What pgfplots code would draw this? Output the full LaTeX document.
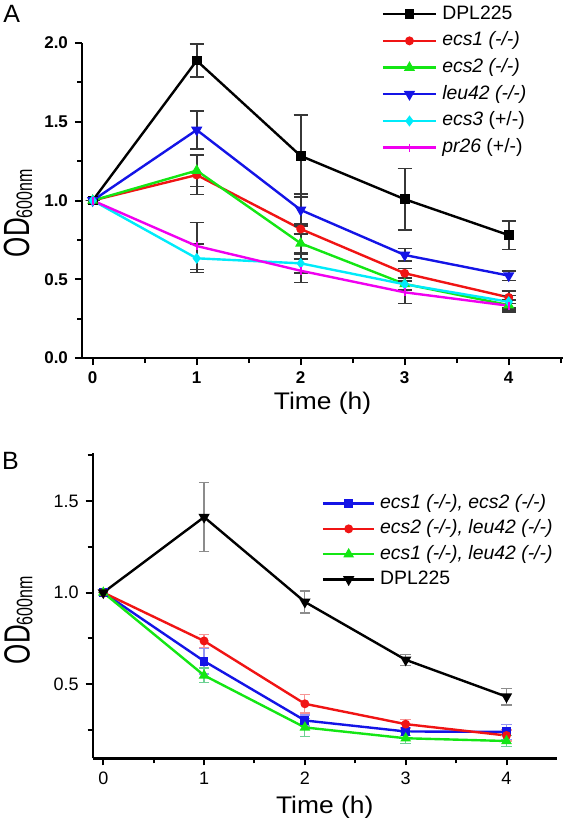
\documentclass[border=0pt]{standalone}
\usepackage{pgfplots}
\pgfplotsset{compat=1.18}
\usepackage{fontspec}
\setmainfont{Liberation Sans}
\definecolor{cred}{RGB}{240,20,20}
\definecolor{cgreen}{RGB}{20,230,20}
\definecolor{cblue}{RGB}{20,20,230}
\definecolor{ccyan}{RGB}{0,235,250}
\definecolor{cmag}{RGB}{240,0,240}
\definecolor{errgray}{RGB}{55,55,55}

\pgfplotstableread{
x y e
0 1.000 0
1 1.888 0.105
2 1.283 0.26
3 1.008 0.195
4 0.780 0.09
}\Adpl
\pgfplotstableread{
x y e
0 1.000 0
1 1.162 0.125
2 0.819 0.03
3 0.538 0.03
4 0.385 0.04
}\Aecsone
\pgfplotstableread{
x y e
0 1.000 0
1 1.190 0.10
2 0.728 0.06
3 0.470 0.04
4 0.336 0.03
}\Aecstwo
\pgfplotstableread{
x y e
0 1.000 0
1 1.448 0.12
2 0.940 0.10
3 0.654 0.04
4 0.523 0.03
}\Aleu
\pgfplotstableread{
x y e
0 1.000 0
1 0.633 0.09
2 0.601 0.06
3 0.468 0.04
4 0.357 0.04
}\Aecsthree
\pgfplotstableread{
x y e
0 1.000 0
1 0.711 0.15
2 0.554 0.075
3 0.417 0.07
4 0.332 0.04
}\Apr
\pgfplotstableread{
x y e
0 1.000 0
1 0.626 0.07
2 0.302 0.03
3 0.242 0.02
4 0.240 0.04
}\Bblue
\pgfplotstableread{
x y e
0 1.000 0
1 0.736 0.035
2 0.393 0.05
3 0.282 0.025
4 0.220 0.03
}\Bred
\pgfplotstableread{
x y e
0 1.000 0
1 0.548 0.04
2 0.264 0.05
3 0.205 0.03
4 0.190 0.03
}\Bgreen
\pgfplotstableread{
x y e
0 1.000 0
1 1.412 0.19
2 0.949 0.06
3 0.633 0.03
4 0.432 0.045
}\Bblack

\pgfplotsset{
  panel/.style={
    scale only axis,
    axis x line*=bottom, axis y line*=left,
    axis line style={line width=1.2pt, black},
    tick align=outside,
    major tick length=3.5pt, minor tick length=2.5pt,
    tick style={line width=1pt, black},
    xtick={0,1,2,3,4}, xticklabels={0,1,2,3,4},
    minor xtick={0.5,1.5,2.5,3.5,4.5},
    clip=false,
    legend cell align=left,
  },
  ser/.style={line width=1.2pt, #1, mark options={solid, fill=#1, draw=#1}},
  legA/.style={legend image code/.code={\draw[mark repeat=2,mark phase=2] plot coordinates {(0pt,0pt)(13.3pt,0pt)(26.6pt,0pt)};}},
  legB/.style={legend image code/.code={\draw[mark repeat=2,mark phase=2] plot coordinates {(0pt,0pt)(12.9pt,0pt)(25.8pt,0pt)};}},
}
\newcommand{\odlabel}{\scalebox{1}[1.4]{OD\raisebox{-1pt}{\fontsize{8}{8}\selectfont 600nm}}}
\newcommand{\timelabel}{\scalebox{1.1}[1]{Time (h)}}

\begin{document}
\begin{tikzpicture}
\useasboundingbox (0,0) rectangle (283pt,-412pt);
\node[anchor=north west, inner sep=0pt, font=\fontsize{12.5}{13}\selectfont] at (1.5pt,-2.5pt) {A};
\node[anchor=north west, inner sep=0pt, font=\fontsize{12.5}{13}\selectfont] at (0.85pt,-225.8pt) {B};

% ---------------- Panel A ----------------
\begin{axis}[panel,
  at={(41pt,-179pt)}, anchor=south west,
  width=240.5pt, height=157.5pt,
  xmin=-0.103, xmax=4.522, ymin=0, ymax=2,
  ytick={0,0.5,1,1.5,2}, yticklabels={0.0,0.5,1.0,1.5,2.0},
  minor ytick={0.25,0.75,1.25,1.75},
  ticklabel style={font=\bfseries\fontsize{8.5}{9}\selectfont},
  xlabel={\timelabel},
  xlabel style={at={(axis description cs:0.5,-0.143)}, anchor=center, font=\fontsize{12}{13}\selectfont},
  ylabel={\odlabel},
  ylabel style={at={(axis description cs:-0.133,0.46)}, anchor=center, font=\fontsize{13}{14}\selectfont},
  legend style={at={(axis description cs:0.623,1.122)}, anchor=north west, draw=none, fill=none,
    inner sep=0pt, outer sep=0pt, row sep=3.75pt, column sep=2.5pt,
    font=\fontsize{9.7}{11}\selectfont,
    nodes={inner sep=0pt, text height=7.3pt, text depth=2.3pt}},
  every axis plot post/.append style={legA},
  error bars/y dir=both, error bars/y explicit,
  error bars/error bar style={line width=0.8pt, errgray},
  error bars/error mark options={rotate=90, mark size=3.6pt, line width=0.8pt, errgray},
]
\addplot[ser=black, mark=square*, mark size=1.8pt] table[x=x,y=y,y error=e] {\Adpl};
\addlegendentry{DPL225}
\addplot[ser=cred, mark=*, mark size=1.6pt] table[x=x,y=y,y error=e] {\Aecsone};
\addlegendentry{\textit{ecs1 (-/-)}}
\addplot[ser=cgreen, mark=triangle*, mark size=2pt] table[x=x,y=y,y error=e] {\Aecstwo};
\addlegendentry{\textit{ecs2 (-/-)}}
\addplot[ser=cblue, mark=triangle*, mark size=2.1pt, mark options={rotate=180}] table[x=x,y=y,y error=e] {\Aleu};
\addlegendentry{\textit{leu42 (-/-)}}
\addplot[ser=ccyan, mark=diamond*, mark size=1.8pt] table[x=x,y=y,y error=e] {\Aecsthree};
\addlegendentry{\textit{ecs3} (+/-)}
\addplot[ser=cmag, mark=|, mark size=2pt, mark options={line width=0.8pt}] table[x=x,y=y,y error=e] {\Apr};
\addlegendentry{\textit{pr26} (+/-)}
\end{axis}

% ---------------- Panel B ----------------
\begin{axis}[panel,
  at={(46.35pt,-379.15pt)}, anchor=south west,
  width=232pt, height=152.5pt,
  xmin=-0.105, xmax=4.498, ymin=0.0956, ymax=1.76,
  ytick={0.5,1,1.5}, yticklabels={0.5,1.0,1.5},
  minor ytick={0.25,0.75,1.25,1.75},
  ticklabel style={font=\fontsize{9}{10}\selectfont},
  xlabel={\timelabel},
  xlabel style={at={(axis description cs:0.5,-0.161)}, anchor=center, font=\fontsize{12}{13}\selectfont},
  ylabel={\odlabel},
  ylabel style={at={(axis description cs:-0.160,0.453)}, anchor=center, font=\fontsize{13}{14}\selectfont},
  legend style={at={(axis description cs:0.4935,0.866)}, anchor=north west, draw=none, fill=none,
    inner sep=0pt, outer sep=0pt, row sep=3.25pt, column sep=2.2pt,
    font=\fontsize{9.7}{11}\selectfont,
    nodes={inner sep=0pt, text height=7.2pt, text depth=2.2pt}},
  every axis plot post/.append style={legB},
  error bars/y dir=both, error bars/y explicit,
]
\addplot[ser=cblue, mark=square*, mark size=1.6pt,
  error bars/error bar style={line width=0.6pt, cblue!45},
  error bars/error mark options={rotate=90, mark size=2.6pt, line width=0.6pt, cblue!45}] table[x=x,y=y,y error=e] {\Bblue};
\addlegendentry{\textit{ecs1 (-/-), ecs2 (-/-)}}
\addplot[ser=cred, mark=*, mark size=1.6pt,
  error bars/error bar style={line width=0.6pt, cred!45},
  error bars/error mark options={rotate=90, mark size=2.6pt, line width=0.6pt, cred!45}] table[x=x,y=y,y error=e] {\Bred};
\addlegendentry{\textit{ecs2 (-/-), leu42 (-/-)}}
\addplot[ser=cgreen, mark=triangle*, mark size=1.9pt,
  error bars/error bar style={line width=0.6pt, cgreen!50!teal!60},
  error bars/error mark options={rotate=90, mark size=2.6pt, line width=0.6pt, cgreen!50!teal!60}] table[x=x,y=y,y error=e] {\Bgreen};
\addlegendentry{\textit{ecs1 (-/-), leu42 (-/-)}}
\addplot[ser=black, mark=triangle*, mark size=2.1pt, mark options={rotate=180},
  error bars/error bar style={line width=0.6pt, black!45},
  error bars/error mark options={rotate=90, mark size=2.6pt, line width=0.6pt, black!45}] table[x=x,y=y,y error=e] {\Bblack};
\addlegendentry{DPL225}
\end{axis}
\end{tikzpicture}
\end{document}
